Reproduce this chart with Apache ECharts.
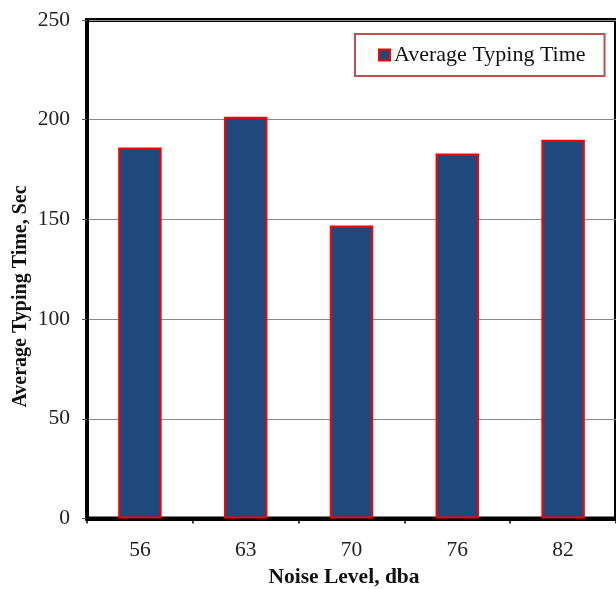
<!DOCTYPE html>
<html>
<head>
<meta charset="utf-8">
<script src="https://cdn.jsdelivr.net/npm/echarts@6/dist/echarts.min.js"></script>
<style>html,body{margin:0;padding:0;background:#fff}#c{width:616px;height:589px}</style>
</head>
<body>
<div id="c"></div>
<script>
const categories = ['56', '63', '70', '76', '82'];
const typingTime = [186, 201.5, 147, 183, 190];
const seriesName = 'Average Typing Time';
const xTitle = 'Noise Level, dba';
const yTitle = 'Average Typing Time, Sec';

const FONT = '"Liberation Serif", "Times New Roman", serif';
const chart = echarts.init(document.getElementById('c'), null, {renderer: 'canvas'});
chart.setOption({
  animation: false,
  backgroundColor: '#fff',
  grid: {left: 87, top: 20, width: 536, height: 498.5, show: true, borderColor: '#000', borderWidth: 4, backgroundColor: 'transparent'},
  legend: {
    left: 355, top: 34,
    padding: [10, 19, 10, 23],
    borderColor: '#C0504D', borderWidth: 2, borderRadius: 0,
    itemWidth: 11, itemHeight: 11, itemGap: 4,
    icon: 'rect',
    itemStyle: {color: '#1F497D', borderColor: '#FF0000', borderWidth: 2},
    textStyle: {fontFamily: FONT, fontSize: 22, color: '#111', padding: [0, 0, 0, -1]},
    data: [seriesName]
  },
  xAxis: {
    type: 'category', data: categories,
    axisLine: {show: true, lineStyle: {color: '#000', width: 4}},
    axisTick: {show: true, length: 5, lineStyle: {color: '#000', width: 1.5}},
    axisLabel: {fontFamily: FONT, fontSize: 21.5, color: '#222', margin: 21},
    splitLine: {show: false}
  },
  yAxis: {
    type: 'value', min: 0, max: 250, interval: 50,
    axisLine: {show: true, lineStyle: {color: '#000', width: 4}},
    axisTick: {show: true, length: 5, lineStyle: {color: '#555', width: 1}},
    axisLabel: {fontFamily: FONT, fontSize: 21.5, color: '#222', margin: 17},
    splitLine: {show: true, lineStyle: {color: '#8a8a8a', width: 1.2}}
  },
  graphic: [
    {type: 'text', x: 344, y: 577, style: {text: xTitle, font: 'bold 21.5px ' + FONT, fill: '#111', textAlign: 'center', textVerticalAlign: 'middle'}},
    {type: 'text', x: 21, y: 296.5, rotation: Math.PI / 2, style: {text: yTitle, font: 'bold 20px ' + FONT, fill: '#111', textAlign: 'center', textVerticalAlign: 'middle'}}
  ],
  series: [{
    name: seriesName, type: 'bar', data: typingTime,
    barWidth: 43.5,
    itemStyle: {color: '#1F497D', borderColor: '#FF0000', borderWidth: 2}
  }]
});
</script>
</body>
</html>
